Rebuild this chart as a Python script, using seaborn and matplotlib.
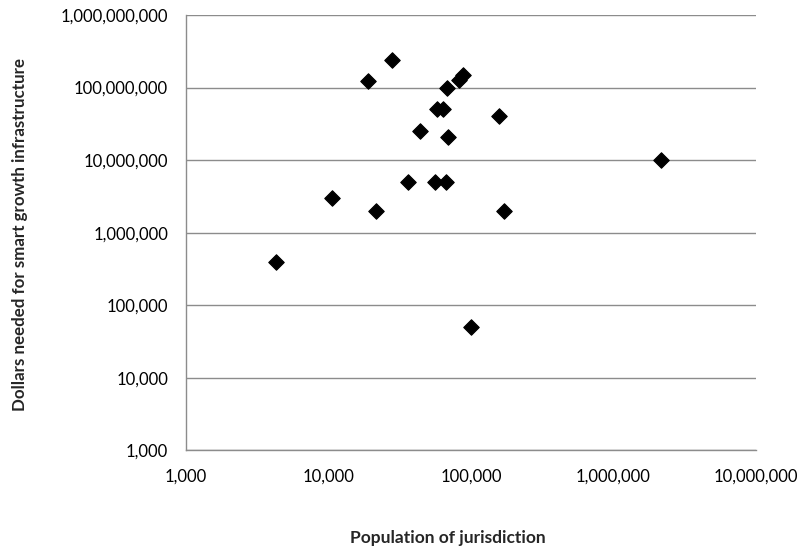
import matplotlib
matplotlib.use("Agg")
import matplotlib.pyplot as plt
import matplotlib.ticker as mticker
import numpy as np
import pandas as pd
import seaborn as sns

# Jurisdiction population vs. estimated smart growth infrastructure need
population = [
    28000, 19000, 68000, 82000, 88000,
    58000, 63500, 157000, 44000, 69500,
    36500, 56500, 66500, 10600, 21500,
    170000, 2150000, 4300, 101000,
]
dollars_needed = [
    240000000, 125000000, 100000000, 128000000, 150000000,
    50000000, 50000000, 40000000, 25000000, 20500000,
    5000000, 5000000, 5000000, 3000000, 2000000,
    2000000, 10000000, 400000, 50000,
]

x_ticks = [1e3, 1e4, 1e5, 1e6, 1e7]
y_ticks = [1e3, 1e4, 1e5, 1e6, 1e7, 1e8, 1e9]

df = pd.DataFrame({"population": population, "dollars": dollars_needed})

sns.set_theme(style="white")
plt.rcParams["font.family"] = ["Lato", "DejaVu Sans"]

fig = plt.figure(figsize=(8.02, 5.5), dpi=100)
ax = fig.add_axes([0.2315, 0.181, 0.7112, 0.7918])

sns.scatterplot(data=df, x="population", y="dollars", marker="D", s=62,
                color="black", edgecolor="black", linewidth=0.8, ax=ax,
                zorder=3)

ax.set_xscale("log")
ax.set_yscale("log")
ax.set_xlim(1e3, 1e7)
ax.set_ylim(1e3, 1e9)
ax.set_xticks(x_ticks)
ax.set_yticks(y_ticks)
ax.xaxis.set_minor_locator(mticker.NullLocator())
ax.yaxis.set_minor_locator(mticker.NullLocator())
fmt = mticker.FuncFormatter(lambda v, p: f"{int(round(v)):,}")
ax.xaxis.set_major_formatter(fmt)
ax.yaxis.set_major_formatter(fmt)

grid_color = "#8c8c8c"
ax.yaxis.grid(True, color=grid_color, linewidth=1.0)
ax.xaxis.grid(False)
ax.set_axisbelow(True)
for side in ("top", "right"):
    ax.spines[side].set_visible(False)
for side in ("left", "bottom"):
    ax.spines[side].set_color(grid_color)
    ax.spines[side].set_linewidth(1.0)

ax.tick_params(axis="both", which="major", direction="out", length=3.6,
               width=1.0, color=grid_color, labelsize=12,
               labelcolor="black")
ax.tick_params(axis="x", pad=9.5)
ax.tick_params(axis="y", pad=9)

ax.set_xlabel("")
ax.set_ylabel("")
fig.text(448 / 802, 1 - 538 / 550, "Population of jurisdiction",
         ha="center", va="center", fontsize=12.5, fontweight="bold")
fig.text(20.5 / 802, 1 - 234.5 / 550,
         "Dollars needed for smart growth infrastructure",
         ha="center", va="center", rotation=90, fontsize=12.2,
         fontweight="bold")

fig.savefig("out.png", dpi=100, facecolor="white")
